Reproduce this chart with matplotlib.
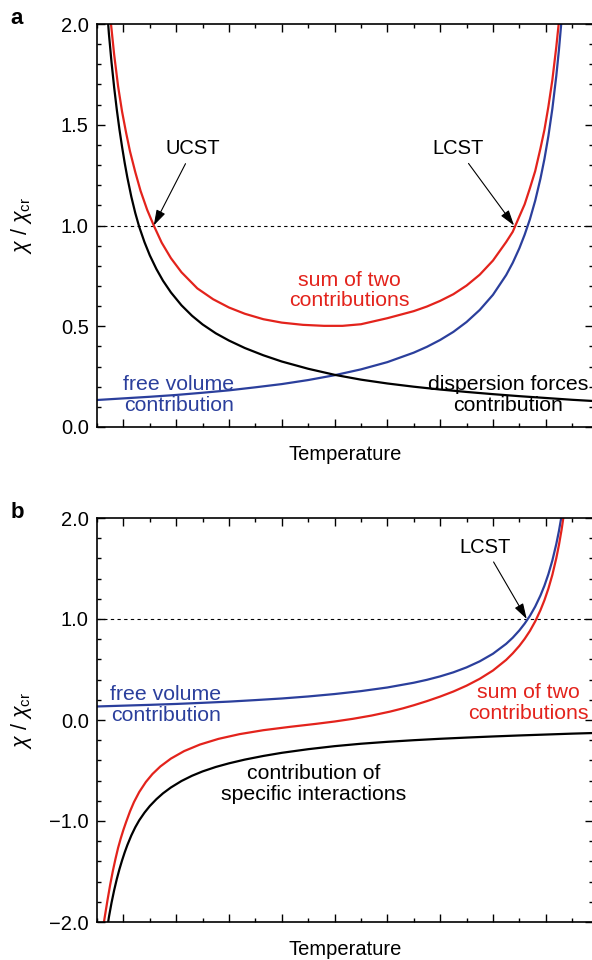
import matplotlib
matplotlib.use("Agg")
import matplotlib.pyplot as plt
from matplotlib.ticker import MultipleLocator

plt.rcParams['font.family'] = ['Liberation Sans', 'DejaVu Sans']
plt.rcParams['mathtext.fontset'] = 'custom'
plt.rcParams['mathtext.rm'] = 'Liberation Sans'
plt.rcParams['mathtext.it'] = 'Liberation Sans:italic'

RED = '#e3231c'
BLUE = '#2b3f9c'

# --- panel a: UCST + LCST ---
# dispersion forces contribution (falls off with T)
disp_t = [0.40, 0.45, 0.55, 0.65, 0.75, 0.85, 0.95, 1.05, 1.15, 1.30, 1.45,
          1.60, 1.80, 2.00, 2.25, 2.50, 2.80, 3.20, 3.60, 4.00, 4.50, 5.00,
          5.60, 6.30, 7.0, 8.0, 9.0, 10.0, 11.0, 12.0, 13.0, 14.0, 15.0,
          16.0, 17.0, 18.0, 18.8]
disp_chi = [2.041, 1.953, 1.810, 1.685, 1.575, 1.477, 1.390, 1.310, 1.238,
            1.143, 1.062, 0.993, 0.917, 0.852, 0.784, 0.726, 0.668, 0.604,
            0.552, 0.509, 0.465, 0.429, 0.392, 0.356, 0.325, 0.289, 0.259,
            0.235, 0.216, 0.200, 0.186, 0.174, 0.163, 0.153, 0.144, 0.135,
            0.129]

# free volume contribution (grows towards LCST)
fv_t = [0.0, 1.0, 2.0, 3.0, 4.0, 5.0, 6.0, 7.0, 8.0, 9.0, 10.0, 11.0, 12.0,
        12.5, 13.0, 13.5, 14.0, 14.5, 15.0, 15.5, 15.75, 16.0, 16.2, 16.4,
        16.6, 16.8, 16.95, 17.1, 17.25, 17.4, 17.5, 17.6, 17.7]
fv_chi = [0.134, 0.142, 0.150, 0.159, 0.170, 0.182, 0.197, 0.213, 0.233,
          0.257, 0.286, 0.322, 0.369, 0.398, 0.432, 0.472, 0.521, 0.581,
          0.656, 0.754, 0.815, 0.887, 0.954, 1.031, 1.123, 1.233, 1.330,
          1.444, 1.579, 1.743, 1.872, 2.022, 2.197]

# sum of both contributions
sum_a_t = [0.45, 0.53, 0.65, 0.80, 0.95, 1.10, 1.25, 1.45, 1.65, 1.90, 2.15,
           2.45, 2.80, 3.20, 3.80, 4.40, 5.00, 5.60, 6.30, 7.00, 7.80, 8.60,
           9.30, 10.0, 11.0, 12.0, 12.5, 13.0, 13.5, 14.0, 14.5, 15.0, 15.5,
           15.75, 16.0, 16.2, 16.4, 16.6, 16.8, 16.95, 17.1, 17.25, 17.4,
           17.5, 17.6]
sum_a_chi = [2.119, 2.000, 1.848, 1.690, 1.565, 1.462, 1.368, 1.265, 1.172,
             1.078, 1.000, 0.915, 0.838, 0.768, 0.688, 0.634, 0.593, 0.562,
             0.535, 0.518, 0.507, 0.502, 0.502, 0.510, 0.540, 0.575, 0.598,
             0.626, 0.659, 0.702, 0.756, 0.826, 0.918, 0.969, 1.045, 1.105,
             1.185, 1.270, 1.383, 1.475, 1.590, 1.722, 1.887, 2.013, 2.160]

# --- panel b: LCST only ---
# specific interactions: mirror image of the dispersion term
spec_t = disp_t
spec_chi = [-v for v in disp_chi]

fv_b_t = fv_t
fv_b_chi = fv_chi

sum_b_t = [0.24, 0.30, 0.40, 0.50, 0.60, 0.70, 0.80, 0.90, 1.00, 1.10, 1.25,
           1.40, 1.60, 1.85, 2.10, 2.40, 2.80, 3.30, 3.90, 4.60, 5.40, 6.30,
           7.30, 8.30, 9.0, 9.7, 10.4, 11.1, 11.6, 12.0, 12.5, 13.0, 13.5,
           14.0, 14.5, 15.0, 15.5, 15.75, 16.0, 16.2, 16.4, 16.6, 16.8, 16.95,
           17.1, 17.25, 17.4, 17.5, 17.6, 17.7]
sum_b_chi = [-2.040, -1.940, -1.780, -1.630, -1.495, -1.375, -1.265, -1.172,
             -1.088, -1.012, -0.905, -0.813, -0.713, -0.614, -0.535, -0.460,
             -0.382, -0.308, -0.243, -0.187, -0.140, -0.101, -0.068, -0.038,
             -0.015, 0.012, 0.044, 0.083, 0.116, 0.146, 0.187, 0.232, 0.282,
             0.340, 0.408, 0.490, 0.595, 0.660, 0.734, 0.803, 0.882, 0.976,
             1.088, 1.186, 1.301, 1.437, 1.603, 1.733, 1.884, 2.060]

T_MAX = 18.79
LW = 1.6
FS = 15.3

fig = plt.figure(figsize=(5.92, 9.6), dpi=100)
ax_a = fig.add_axes([97 / 592, 1 - 427 / 960, 496 / 592, 403 / 960])
ax_b = fig.add_axes([97 / 592, 1 - 922 / 960, 496 / 592, 404 / 960])


def style_axes(ax, ymin, ymax, ymajor, yminor):
    ax.set_xlim(0, T_MAX)
    ax.set_ylim(ymin, ymax)
    ax.xaxis.set_major_locator(MultipleLocator(2, offset=1))
    ax.xaxis.set_minor_locator(MultipleLocator(1))
    ax.yaxis.set_major_locator(MultipleLocator(ymajor))
    ax.yaxis.set_minor_locator(MultipleLocator(yminor))
    ax.yaxis.set_major_formatter(lambda v, p: f'{v:.1f}'.replace('-', '\u2212'))
    ax.tick_params(which='both', direction='in', top=True, right=True,
                   labelbottom=False, labelsize=14.5, width=1.0, pad=6)
    ax.tick_params(which='major', length=6)
    ax.tick_params(which='minor', length=3.2)
    for s in ax.spines.values():
        s.set_linewidth(1.2)
    ax.axhline(1.0, color='black', lw=0.8, ls=(0, (3, 3)), zorder=1)
    ax.set_xlabel('Temperature', fontsize=14.5, labelpad=13)
    ax.set_ylabel(r'$\chi$ / $\chi_{\mathrm{cr}}$', fontsize=15.5)
    ax.yaxis.set_label_coords(-0.128, 0.5)


style_axes(ax_a, 0, 2.0, 0.5, 0.1)
ax_a.plot(fv_t, fv_chi, color=BLUE, lw=LW)
ax_a.plot(disp_t, disp_chi, color='black', lw=LW)
ax_a.plot(sum_a_t, sum_a_chi, color=RED, lw=LW)

arrow = dict(arrowstyle='-|>,head_length=0.65,head_width=0.2', color='black',
             lw=0.8, shrinkA=2, shrinkB=0)
ax_a.annotate('UCST', xy=(2.15, 1.0), xytext=(3.64, 1.38), fontsize=14.5,
              ha='center', va='center', arrowprops=arrow)
ax_a.annotate('LCST', xy=(15.8, 1.0), xytext=(13.67, 1.38), fontsize=14.5,
              ha='center', va='center', arrowprops=arrow)
ax_a.text(9.55, 0.678, 'sum of two\ncontributions', color=RED, fontsize=FS,
          ha='center', va='center', linespacing=1.1)
ax_a.text(3.1, 0.158, 'free volume\ncontribution', color=BLUE, fontsize=FS,
          ha='center', va='center', linespacing=1.1)
ax_a.text(15.57, 0.158, 'dispersion forces\ncontribution', color='black',
          fontsize=FS, ha='center', va='center', linespacing=1.1)

style_axes(ax_b, -2.0, 2.0, 1.0, 0.2)
ax_b.plot(fv_b_t, fv_b_chi, color=BLUE, lw=LW)
ax_b.plot(spec_t, spec_chi, color='black', lw=LW)
ax_b.plot(sum_b_t, sum_b_chi, color=RED, lw=LW)

ax_b.annotate('LCST', xy=(16.28, 1.0), xytext=(14.7, 1.71), fontsize=14.5,
              ha='center', va='center', arrowprops=arrow)
ax_b.text(2.61, 0.149, 'free volume\ncontribution', color=BLUE, fontsize=FS,
          ha='center', va='center', linespacing=1.1)
ax_b.text(16.36, 0.168, 'sum of two\ncontributions', color=RED, fontsize=FS,
          ha='center', va='center', linespacing=1.1)
ax_b.text(8.22, -0.634, 'contribution of\nspecific interactions',
          color='black', fontsize=FS, ha='center', va='center',
          linespacing=1.1)

fig.text(17 / 592, 1 - 18 / 960, 'a', fontsize=16, fontweight='bold',
         ha='center', va='center')
fig.text(17 / 592, 1 - 513 / 960, 'b', fontsize=16, fontweight='bold',
         ha='center', va='center')

fig.savefig('out.png', dpi=100)
